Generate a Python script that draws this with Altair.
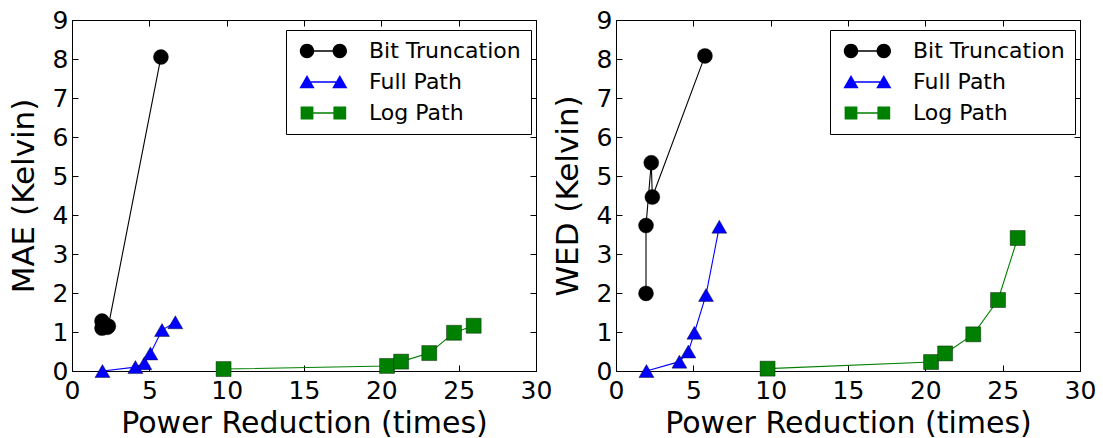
import altair as alt
import pandas as pd

# Series definitions
series = ["Bit Truncation", "Full Path", "Log Path"]
colors = ["#000000", "#0000ff", "#008000"]
shapes = ["circle", "triangle-up", "square"]

# Power reduction (times) per configuration
bit_x = [1.94, 1.94, 2.28, 2.35, 5.75]
full_x = [1.97, 4.1, 4.68, 5.07, 5.82, 6.68]
log_x = [9.8, 20.37, 21.28, 23.1, 24.7, 25.97]

# Mean absolute error (Kelvin)
bit_mae = [1.1, 1.28, 1.12, 1.15, 8.05]
full_mae = [0.0, 0.1, 0.2, 0.45, 1.05, 1.25]
log_mae = [0.05, 0.13, 0.24, 0.46, 0.98, 1.16]

# Worst-case error distance (Kelvin)
bit_wed = [1.99, 3.73, 5.34, 4.46, 8.08]
full_wed = [0.0, 0.24, 0.5, 0.98, 1.95, 3.7]
log_wed = [0.06, 0.23, 0.45, 0.94, 1.82, 3.41]

x_ticks = [0, 5, 10, 15, 20, 25, 30]
y_ticks = [0, 1, 2, 3, 4, 5, 6, 7, 8, 9]

rows = []
for metric, ys in (("MAE", (bit_mae, full_mae, log_mae)), ("WED", (bit_wed, full_wed, log_wed))):
    for name, xs, yv in zip(series, (bit_x, full_x, log_x), ys):
        for i, (xv, yy) in enumerate(zip(xs, yv)):
            rows.append({"metric": metric, "series": name, "idx": i, "x": xv, "y": yy})
df = pd.DataFrame(rows)

FONT = "DejaVu Sans"

# Legend glyphs: marker - line - marker, in symbol units (1 unit = 8 px at size 256).
# Every sub-path is wound clockwise so overlaps stay filled.
circ = lambda cx: (f"M{cx-0.9},0A0.9,0.9 0 1,1 {cx+0.9},0A0.9,0.9 0 1,1 {cx-0.9},0Z")
tri = lambda cx: f"M{cx-0.95},0.78L{cx},-0.88L{cx+0.95},0.78Z"
sq = lambda cx: f"M{cx-0.8},-0.8L{cx+0.8},-0.8L{cx+0.8},0.8L{cx-0.8},0.8Z"
bar = "M0,-0.09L4.1,-0.09L4.1,0.09L0,0.09Z"
legend_paths = [circ(0) + bar + circ(4.1), tri(0) + bar + tri(4.1), sq(0) + bar + sq(4.1)]

x_scale = alt.Scale(domain=[0, 30], nice=False, zero=False)
y_scale = alt.Scale(domain=[0, 9], nice=False, zero=False)
color_scale = alt.Scale(domain=series, range=colors)

inward = {"expr": "-6"}


def panel(metric, ytitle):
    data = df[df.metric == metric]
    base = alt.Chart(data)

    # axes live on an empty layer so the series layers stay plain
    axes = base.transform_filter("false").mark_point().encode(
        x=alt.X("x:Q", scale=x_scale,
                axis=alt.Axis(values=x_ticks, format="d", title="Power Reduction (times)",
                              titleFontSize=30, titlePadding=5, labelPadding=13,
                              labelFlush=False, tickSize=inward)),
        y=alt.Y("y:Q", scale=y_scale,
                axis=alt.Axis(values=y_ticks, format="d", title=ytitle,
                              titleFontSize=31, titlePadding=12, labelPadding=10,
                              labelFlush=False, tickSize=inward)),
    )
    layers = [axes]

    for name, col in zip(series, colors):
        layers.append(
            base.transform_filter(alt.datum.series == name)
            .mark_line(strokeWidth=1.1, color=col)
            .encode(x=alt.X("x:Q", scale=x_scale, axis=None),
                    y=alt.Y("y:Q", scale=y_scale, axis=None),
                    order="idx:Q")
        )
    for name, shp, col in zip(series, shapes, colors):
        layers.append(
            base.transform_filter(alt.datum.series == name)
            .mark_point(shape=shp, filled=True, size=225, color=col,
                        stroke="#000000", strokeWidth=0.4, opacity=1)
            .encode(x=alt.X("x:Q", scale=x_scale, axis=None),
                    y=alt.Y("y:Q", scale=y_scale, axis=None))
        )

    # mirror axes on top and right, ticks only
    frame = base.transform_filter("false").mark_point().encode(
        x=alt.X("x:Q", scale=x_scale,
                axis=alt.Axis(orient="top", values=x_ticks, labels=False, title=None,
                              domain=False, tickSize=inward)),
        y=alt.Y("y:Q", scale=y_scale,
                axis=alt.Axis(orient="right", values=y_ticks, labels=False, title=None,
                              domain=False, tickSize=inward)),
    )
    layers.append(frame)

    leg_props = dict(title=None, orient="none", legendX=214, legendY=10,
                     padding=10, strokeColor="#000000", fillColor="#ffffff",
                     labelFont=FONT, labelFontSize=22, labelColor="#000000",
                     symbolSize=256, symbolStrokeWidth=0, labelOffset=51,
                     rowPadding=9, cornerRadius=0, symbolOpacity=1)
    key = base.mark_point(filled=True, opacity=0).encode(
        x=alt.X("x:Q", scale=x_scale, axis=None),
        y=alt.Y("y:Q", scale=y_scale, axis=None),
        color=alt.Color("series:N", scale=color_scale, legend=alt.Legend(**leg_props)),
        shape=alt.Shape("series:N", scale=alt.Scale(domain=series, range=legend_paths),
                        legend=alt.Legend(**leg_props)),
    )
    layers.append(key)

    return alt.layer(*layers).resolve_axis(x="independent", y="independent").properties(
        width=464, height=351)


chart = alt.hconcat(
    panel("MAE", "MAE (Kelvin)"),
    panel("WED", "WED (Kelvin)"),
    spacing=80,
    bounds="flush",
).resolve_legend(
    color="independent", shape="independent"
).resolve_scale(
    color="independent", shape="independent"
).properties(
    padding={"left": 7, "top": 7, "right": 5, "bottom": 5},
    background="white",
).configure_axis(
    grid=False,
    labelFont=FONT,
    labelFontSize=25,
    labelColor="#000000",
    titleFont=FONT,
    titleFontWeight="normal",
    titleColor="#000000",
    tickColor="#000000",
    tickWidth=1,
    domainColor="#000000",
    domainWidth=1,
).configure_view(
    stroke="#000000",
    strokeWidth=1,
)

chart.save("out.html", embed_options={"renderer": "svg", "actions": False})
